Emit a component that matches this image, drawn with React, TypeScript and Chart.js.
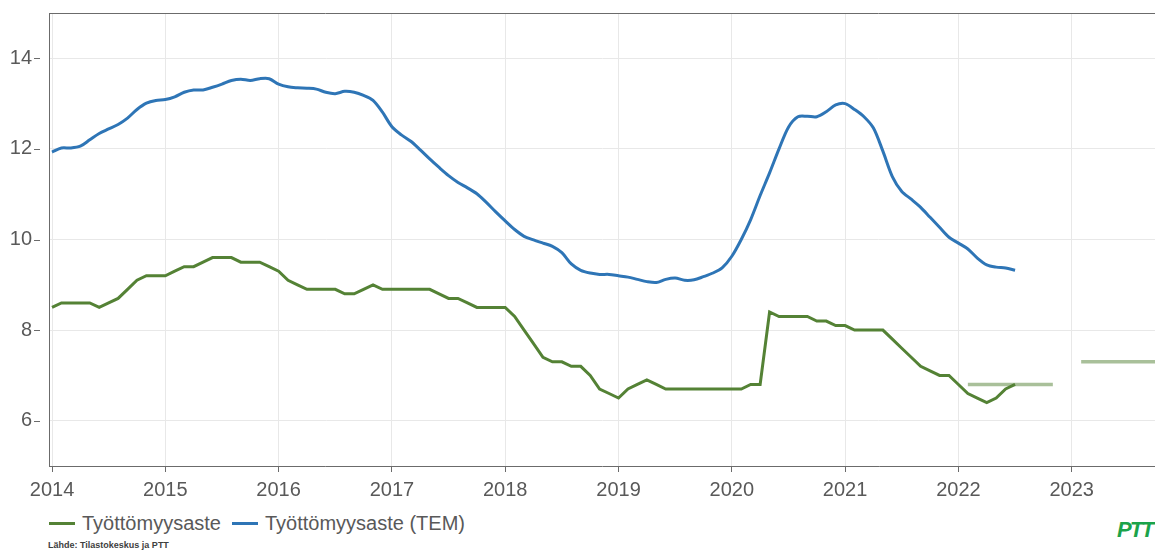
import React, { useEffect, useRef } from "react";
import { Chart, registerables } from "chart.js";

Chart.register(...registerables);

// ---- Data ----
const START_YEAR = 2014; // monthly series start: January 2014
const seriesLabels = ["Työttömyysaste", "Työttömyysaste (TEM)"];

const unemployment = [
  8.5, 8.6, 8.6, 8.6, 8.6, 8.5, 8.6, 8.7, 8.9, 9.1,
  9.2, 9.2, 9.2, 9.3, 9.4, 9.4, 9.5, 9.6, 9.6, 9.6,
  9.5, 9.5, 9.5, 9.4, 9.3, 9.1, 9.0, 8.9, 8.9, 8.9,
  8.9, 8.8, 8.8, 8.9, 9.0, 8.9, 8.9, 8.9, 8.9, 8.9,
  8.9, 8.8, 8.7, 8.7, 8.6, 8.5, 8.5, 8.5, 8.5, 8.3,
  8.0, 7.7, 7.4, 7.3, 7.3, 7.2, 7.2, 7.0, 6.7, 6.6,
  6.5, 6.7, 6.8, 6.9, 6.8, 6.7, 6.7, 6.7, 6.7, 6.7,
  6.7, 6.7, 6.7, 6.7, 6.8, 6.8, 8.4, 8.3, 8.3, 8.3,
  8.3, 8.2, 8.2, 8.1, 8.1, 8.0, 8.0, 8.0, 8.0, 7.8,
  7.6, 7.4, 7.2, 7.1, 7.0, 7.0, 6.8, 6.6, 6.5, 6.4,
  6.5, 6.7, 6.8,
];

const unemploymentTEM = [
  11.93, 12.02, 12.02, 12.06, 12.2, 12.34, 12.44, 12.54, 12.68, 12.87,
  13.01, 13.07, 13.09, 13.15, 13.25, 13.3, 13.3, 13.36, 13.43, 13.51,
  13.54, 13.51, 13.55, 13.55, 13.43, 13.37, 13.35, 13.34, 13.32, 13.25,
  13.22, 13.27, 13.25, 13.18, 13.07, 12.81, 12.49, 12.31, 12.17, 11.98,
  11.78, 11.59, 11.41, 11.26, 11.14, 11.01, 10.82, 10.61, 10.41, 10.22,
  10.07, 9.99, 9.92, 9.85, 9.71, 9.46, 9.32, 9.26, 9.23, 9.23,
  9.2, 9.17, 9.12, 9.07, 9.05, 9.12, 9.15, 9.1, 9.11, 9.18,
  9.26, 9.38, 9.63, 10.0, 10.44, 10.97, 11.47, 12.0, 12.48, 12.71,
  12.72, 12.71, 12.82, 12.97, 13.0, 12.87, 12.71, 12.46, 11.95, 11.39,
  11.06, 10.89, 10.71, 10.49, 10.27, 10.05, 9.92, 9.79, 9.59, 9.44,
  9.39, 9.37, 9.32,
];

// Annual forecasts, drawn from February to November of the year
const forecastYears = [2022, 2023];
const forecastValues = [6.8, 7.3];
const forecastStartMonth = 1; // February (0-based)
const forecastEndMonth = 10; // November (0-based)

const xTickValues = [2014, 2015, 2016, 2017, 2018, 2019, 2020, 2021, 2022, 2023];
const yTickValues = [6, 8, 10, 12, 14];
const X_MIN = 2013.9735;
const X_MAX = 2023.735;
const Y_MIN = 5;
const Y_MAX = 15;

// ---- Styles ----
const FONT = "'Liberation Sans', Arial, Helvetica, sans-serif";
const TEXT = "#595959";
const GREEN = "#548235";
const BLUE = "#2e75b6";
const FORECAST = "rgba(84,130,53,0.5)";
const AXIS = "#6b6b6b";
const GRID = "#e8e8e8";

const toPoints = (vals: number[]) =>
  vals.map((v, i) => ({ x: START_YEAR + i / 12, y: v }));

const forecastPoints = () => {
  const pts: any[] = [];
  forecastYears.forEach((yr, i) => {
    if (i > 0) pts.push({ x: yr, y: null });
    pts.push({ x: yr + forecastStartMonth / 12, y: forecastValues[i] });
    pts.push({ x: yr + forecastEndMonth / 12, y: forecastValues[i] });
  });
  return pts;
};

const framePlugin = {
  id: "frame",
  afterDraw(chart: any) {
    const { ctx, chartArea } = chart;
    const ys = chart.scales.y;
    ctx.save();
    ctx.strokeStyle = AXIS;
    ctx.lineWidth = 1;
    ctx.beginPath();
    ctx.moveTo(chartArea.left, chartArea.top + 0.5);
    ctx.lineTo(chartArea.right, chartArea.top + 0.5);
    ys.ticks.forEach((t: any) => {
      const py = Math.round(ys.getPixelForValue(t.value)) + 0.5;
      ctx.moveTo(34, py);
      ctx.lineTo(40, py);
    });
    ctx.stroke();
    ctx.restore();
  },
};

export default function App() {
  const ref = useRef<HTMLCanvasElement | null>(null);

  useEffect(() => {
    if (!ref.current) return;
    const chart = new Chart(ref.current, {
      type: "line",
      data: {
        datasets: [
          {
            label: seriesLabels[0],
            data: toPoints(unemployment),
            borderColor: GREEN,
            backgroundColor: GREEN,
            borderWidth: 3,
            pointRadius: 0,
            tension: 0,
            order: 1,
          },
          {
            label: seriesLabels[1],
            data: toPoints(unemploymentTEM),
            borderColor: BLUE,
            backgroundColor: BLUE,
            borderWidth: 3,
            pointRadius: 0,
            tension: 0.3,
            order: 2,
          },
          {
            label: "Ennuste",
            data: forecastPoints(),
            borderColor: FORECAST,
            backgroundColor: FORECAST,
            borderWidth: 3.5,
            pointRadius: 0,
            spanGaps: false,
            order: 3,
          },
        ],
      },
      options: {
        animation: false,
        responsive: false,
        maintainAspectRatio: false,
        layout: { padding: { top: 13, left: 0, right: 0, bottom: 0 } },
        plugins: {
          legend: { display: false },
          tooltip: { enabled: false },
        },
        scales: {
          x: {
            type: "linear",
            min: X_MIN,
            max: X_MAX,
            afterBuildTicks: (s: any) => {
              s.ticks = xTickValues.map((v) => ({ value: v }));
            },
            afterFit: (s: any) => {
              s.height = 44;
              s.paddingLeft = 0;
              s.paddingRight = 0;
            },
            grid: {
              color: GRID,
              tickColor: AXIS,
              tickLength: 6,
              drawTicks: true,
            },
            border: { display: true, color: AXIS, width: 1 },
            ticks: {
              color: TEXT,
              font: { family: FONT, size: 20 },
              padding: 6,
              maxRotation: 0,
              autoSkip: false,
              callback: (v: any) => String(v),
            },
          },
          y: {
            type: "linear",
            min: Y_MIN,
            max: Y_MAX,
            afterBuildTicks: (s: any) => {
              s.ticks = yTickValues.map((v) => ({ value: v }));
            },
            afterFit: (s: any) => {
              s.width = 49;
              s.paddingTop = 0;
              s.paddingBottom = 0;
            },
            grid: { color: GRID, drawTicks: false },
            border: { display: true, color: AXIS, width: 1 },
            ticks: {
              color: TEXT,
              font: { family: FONT, size: 20 },
              padding: 17,
              callback: (v: any) => String(v),
            },
          },
        },
      },
      plugins: [framePlugin],
    });
    return () => chart.destroy();
  }, []);

  const legendItem = (color: string, text: string, mr: number) => (
    <span style={{ display: "inline-flex", alignItems: "center", marginRight: mr }}>
      <span
        style={{
          display: "inline-block",
          width: 26,
          height: 3,
          background: color,
          marginRight: 7,
        }}
      />
      <span>{text}</span>
    </span>
  );

  return (
    <div
      style={{
        position: "fixed",
        left: 0,
        top: 0,
        width: 1155,
        height: 551,
        overflow: "hidden",
        background: "#fff",
        fontFamily: FONT,
      }}
    >
      <canvas
        ref={ref}
        width={1155}
        height={510}
        style={{ position: "absolute", left: 0, top: 0, width: 1155, height: 510 }}
      />
      <div
        style={{
          position: "absolute",
          left: 49,
          top: 511,
          height: 24,
          lineHeight: "24px",
          fontSize: 20,
          color: TEXT,
          whiteSpace: "nowrap",
          display: "flex",
          alignItems: "center",
        }}
      >
        {legendItem(GREEN, seriesLabels[0], 11)}
        {legendItem(BLUE, seriesLabels[1], 0)}
      </div>
      <div
        style={{
          position: "absolute",
          left: 48,
          top: 540,
          fontSize: 9,
          fontWeight: "bold",
          color: "#404040",
          whiteSpace: "nowrap",
          lineHeight: "11px",
        }}
      >
        Lähde: Tilastokeskus ja PTT
      </div>
      <div
        style={{
          position: "absolute",
          left: 1117,
          top: 517,
          fontSize: 22,
          fontWeight: "bold",
          fontStyle: "italic",
          color: "#1ba34a",
          letterSpacing: -2,
          whiteSpace: "nowrap",
          lineHeight: "26px",
        }}
      >
        PTT
      </div>
    </div>
  );
}
